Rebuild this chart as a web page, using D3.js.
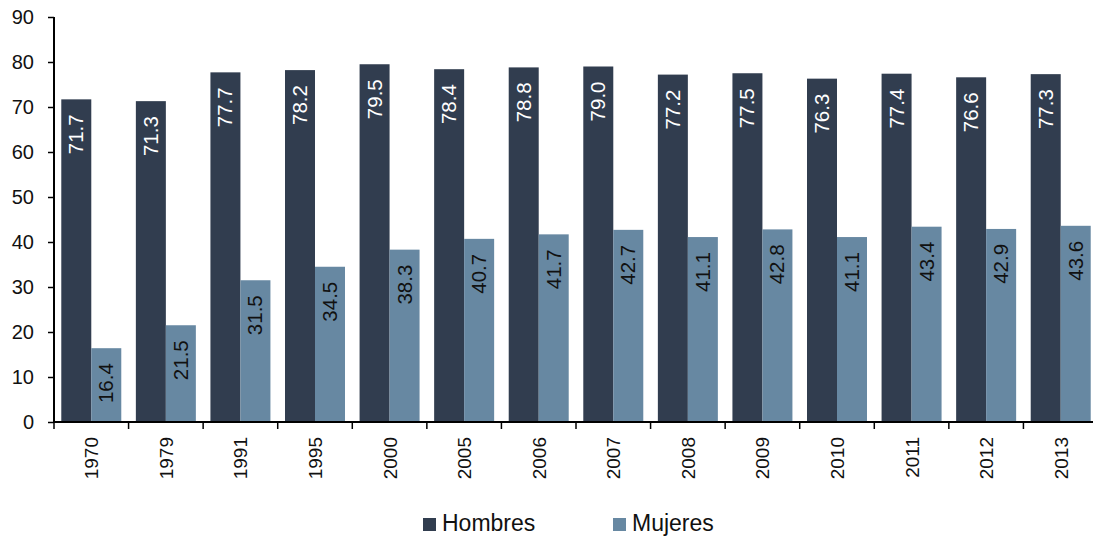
<!DOCTYPE html>
<html>
<head>
<meta charset="utf-8">
<script src="https://cdnjs.cloudflare.com/ajax/libs/d3/7.8.5/d3.min.js"></script>
<style>
  body { margin: 0; background: #fff; }
  text { font-family: "Liberation Sans", Arial, Helvetica, sans-serif; }
</style>
</head>
<body>
<script>
// data
var years = ["1970", "1979", "1991", "1995", "2000", "2005", "2006", "2007", "2008", "2009", "2010", "2011", "2012", "2013"];
var hombres = [71.7, 71.3, 77.7, 78.2, 79.5, 78.4, 78.8, 79.0, 77.2, 77.5, 76.3, 77.4, 76.6, 77.3];
var mujeres = [16.4, 21.5, 31.5, 34.5, 38.3, 40.7, 41.7, 42.7, 41.1, 42.8, 41.1, 43.4, 42.9, 43.6];
var seriesNames = ["Hombres", "Mujeres"];
var yTicks = [0, 10, 20, 30, 40, 50, 60, 70, 80, 90];
var colors = ["#313d4f", "#6788a2"];

var W = 1093, H = 540;
var svg = d3.select("body").append("svg").attr("width", W).attr("height", H);

var x = d3.scaleBand().domain(years).range([54, 1098]).paddingInner(0).paddingOuter(0);
// two 30px bars per year, centred in the band
var inner = d3.scaleBand().domain(seriesNames).range([0, x.bandwidth()]).paddingInner(0).paddingOuter(0.243);
var y = d3.scaleLinear().domain([0, 90]).range([422, 17]);

var rows = years.map(function(yr, i){
    return {year: yr, values: [hombres[i], mujeres[i]]};
});

var groups = svg.selectAll("g.year").data(rows).enter().append("g")
    .attr("class", "year")
    .attr("transform", function(d){ return "translate(" + x(d.year) + ",0)"; });

var cells = function(d){
    return d.values.map(function(v, j){ return {name: seriesNames[j], value: v, j: j}; });
};

// bars
groups.selectAll("rect").data(cells).enter().append("rect")
    .attr("x", function(d){ return inner(d.name); })
    .attr("width", inner.bandwidth())
    .attr("y", function(d){ return y(d.value); })
    .attr("height", function(d){ return y(0) - y(d.value); })
    .style("fill", function(d){ return colors[d.j]; });

// value labels, rotated, just inside the top of each bar
groups.selectAll("text.val").data(cells).enter().append("text")
    .attr("class", "val")
    .attr("transform", function(d){
        var cx = inner(d.name) + inner.bandwidth() / 2 + 7;
        return "translate(" + cx + "," + (y(d.value) + 15) + ") rotate(-90)";
    })
    .attr("text-anchor", "end")
    .style("font-size", "20.5px")
    .style("fill", function(d){ return d.j === 0 ? "#ffffff" : "#111111"; })
    .text(function(d){ return d.value.toFixed(1); });

// y axis
var yAxis = d3.axisLeft(y).tickValues(yTicks).tickSize(6).tickPadding(14);
var gy = svg.append("g").attr("transform", "translate(54,0)").call(yAxis);
gy.select(".domain").attr("stroke", "#000").attr("stroke-width", 2).attr("d", "M0,17V422");
gy.selectAll(".tick line").attr("stroke", "#000").attr("stroke-width", 1.5);
gy.selectAll(".tick text").style("font-size", "20px").style("fill", "#111").attr("font-family", null);

// x axis, ticks on the boundaries between years
var gx = svg.append("g").attr("transform", "translate(0,422)");
gx.append("line").attr("x1", 54).attr("x2", W).attr("y1", 0).attr("y2", 0)
    .attr("stroke", "#000").attr("stroke-width", 2);
gx.selectAll("line.tk").data(years).enter().append("line")
    .attr("class", "tk")
    .attr("x1", function(d){ return x(d); }).attr("x2", function(d){ return x(d); })
    .attr("y1", 0).attr("y2", 7)
    .attr("stroke", "#000").attr("stroke-width", 1.5);
gx.selectAll("text").data(years).enter().append("text")
    .attr("transform", function(d){
        return "translate(" + (x(d) + x.bandwidth() / 2 + 7) + ",15) rotate(-90)";
    })
    .attr("text-anchor", "end")
    .style("font-size", "19px")
    .style("fill", "#111")
    .text(function(d){ return d; });

// legend
var legendX = [423, 613];
var legend = svg.selectAll("g.leg").data(seriesNames).enter().append("g")
    .attr("class", "leg")
    .attr("transform", function(d, i){ return "translate(" + legendX[i] + ",518)"; });
legend.append("rect").attr("width", 13).attr("height", 13)
    .style("fill", function(d, i){ return colors[i]; });
legend.append("text").attr("x", 19).attr("y", 13)
    .style("font-size", "23px").style("fill", "#111")
    .text(function(d){ return d; });
</script>
</body>
</html>
